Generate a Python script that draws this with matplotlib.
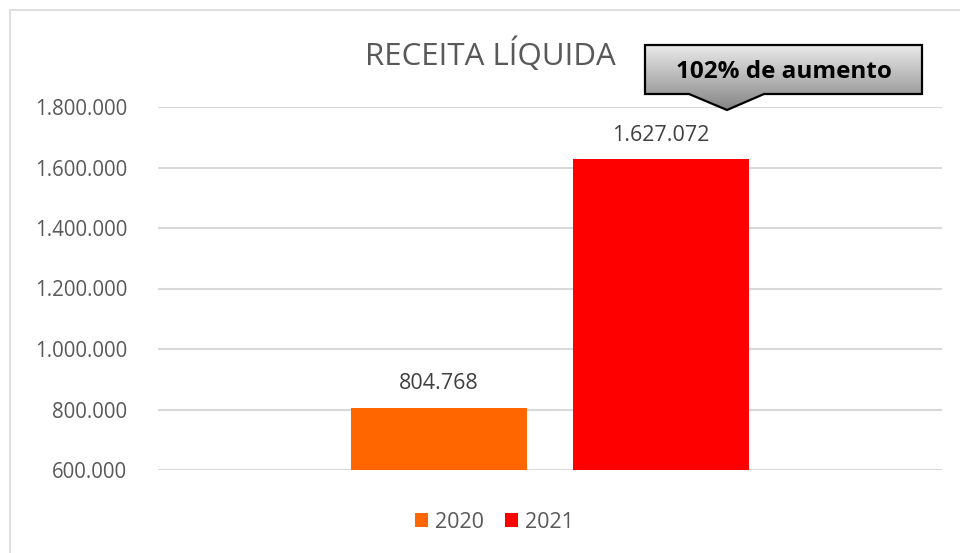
import matplotlib.pyplot as plt
import numpy as np
from matplotlib.patches import Polygon, Rectangle

plt.rcParams['font.family'] = ['Open Sans', 'DejaVu Sans']

anos = ["2020", "2021"]
receita = [804768, 1627072]
cores = ["#FF6600", "#FF0000"]
y_ticks = [600000, 800000, 1000000, 1200000, 1400000, 1600000, 1800000]
titulo = "RECEITA LÍQUIDA"
destaque = "102% de aumento"


def fmt(v):
    return f"{v:,.0f}".replace(",", ".")


W, H = 960, 553
fig = plt.figure(figsize=(W / 100, H / 100), dpi=100)


def px(x, y):
    return (x / W, 1 - y / H)


ax = fig.add_axes([158 / W, (H - 470) / H, 784 / W, 363 / H])

largura = 0.225
gap = 0.058
pos = [0.5 - (largura + gap) / 2, 0.5 + (largura + gap) / 2]
for p, v, c, a in zip(pos, receita, cores, anos):
    ax.bar(p, v - y_ticks[0], bottom=y_ticks[0], width=largura, color=c, label=a, zorder=3)
    ax.text(p, v + 45000, fmt(v), ha="center", va="bottom", fontsize=15.5, color="#404040")

ax.set_xlim(0, 1)
ax.set_ylim(y_ticks[0], y_ticks[-1])
ax.set_yticks(y_ticks)
ax.set_yticklabels([fmt(t) for t in y_ticks], fontsize=14.8, color="#595959")
ax.tick_params(axis="y", length=0, pad=22)
ax.set_xticks([])
ax.grid(axis="y", color="#D9D9D9", lw=1.5, zorder=0)
ax.set_axisbelow(True)
for s in ax.spines.values():
    s.set_visible(False)
ax.set_facecolor("none")

fig.text(490 / W, 1 - 55 / H, titulo, ha="center", va="center", fontsize=22.5, color="#595959")

leg = fig.legend(loc="center", bbox_to_anchor=(0.515, 1 - 522 / H), ncol=2, frameon=False,
                 fontsize=15.5, handlelength=0.6, handleheight=0.6, handletextpad=0.3,
                 columnspacing=1.0)
for t in leg.get_texts():
    t.set_color("#595959")

# caixa de destaque com seta
forma = [px(645, 45), px(922, 45), px(922, 94), px(764, 94), px(727, 110),
         px(689, 94), px(645, 94)]
caixa = Polygon(forma, closed=True, transform=fig.transFigure, facecolor="none",
                edgecolor="black", lw=1.6, zorder=10)
fig.add_artist(caixa)
grad = np.linspace(0, 1, 100).reshape(-1, 1)
ax_g = fig.add_axes([0, 0, 1, 1], zorder=5)
ax_g.axis("off")
img = ax_g.imshow(grad, cmap=plt.matplotlib.colors.LinearSegmentedColormap.from_list(
    "g", ["#EAEAEA", "#858585"]), aspect="auto",
    extent=[645 / W, 922 / W, 1 - 110 / H, 1 - 45 / H], origin="upper",
    transform=fig.transFigure)
clip = Polygon(forma, closed=True, transform=fig.transFigure, facecolor="none", edgecolor="none")
fig.add_artist(clip)
img.set_clip_path(clip)
fig.text(784 / W, 1 - 72 / H, destaque, ha="center", va="center", fontsize=17.5,
         fontweight="bold", color="black", zorder=11)

fig.add_artist(Rectangle(px(10, 600), (W + 50) / W, 590 / H, transform=fig.transFigure,
                         facecolor="none", edgecolor="#D9D9D9", lw=1.2))

fig.savefig("out.png", dpi=100)
